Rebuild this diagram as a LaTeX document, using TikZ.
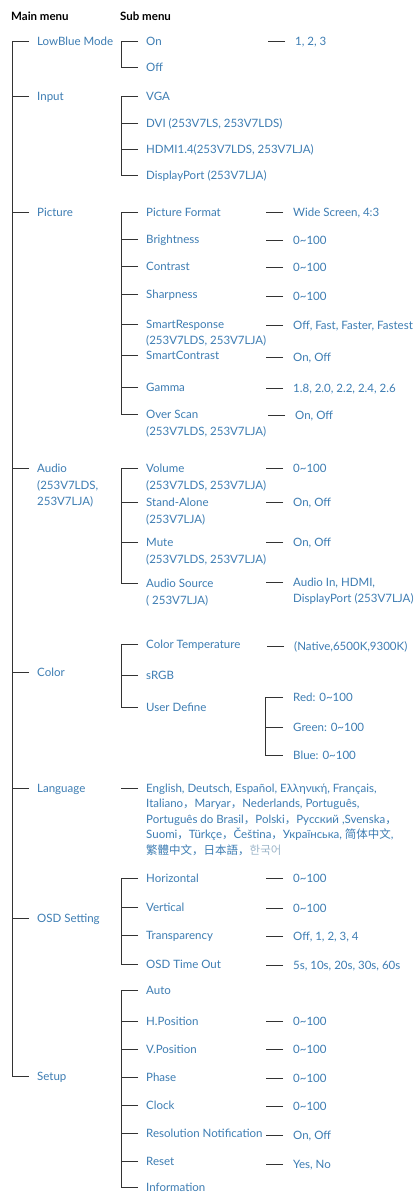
\documentclass[tikz,border=0pt]{standalone}
\usepackage{fontspec}
\setmainfont{Lato}
\newfontfamily\cjk{Noto Sans CJK SC}
\definecolor{menublue}{HTML}{3D7DB3}
\definecolor{linegray}{HTML}{333333}
\definecolor{koreangray}{HTML}{9DB6CA}
\newcommand\fwc{{\cjk ，}}
\newcommand\tld{\textasciitilde}
\begin{document}
\begin{tikzpicture}[x=1pt,y=-1pt,
  lbl/.style={font=\fontsize{11.5}{14}\selectfont, text=menublue, anchor=west, inner xsep=8pt, inner ysep=0pt, text height=8pt, text depth=0pt},
  val/.style={lbl, inner xsep=10pt},
  head/.style={font=\fontsize{11.5}{14}\selectfont\bfseries, text=black, anchor=west, inner sep=0pt, text height=8pt, text depth=0pt},
  conn/.style={draw=linegray, line width=0.9pt}]
\useasboundingbox[fill=white] (0,0) rectangle (414,1194);
% headers
\node[head] (hMain) at (11,16) {Main menu};
\node[head] (hSub) at (120,16) {Sub menu};
% main menu
\node[lbl] (mLow) at (29,41) {LowBlue Mode};
\node[lbl] (mInput) at (29,96) {Input};
\node[lbl] (mPic) at (29,212) {Picture};
\node[lbl] (mAudio) at (29,468) {Audio};
\node[lbl] (mAudio2) at (29,485) {(253V7LDS,};
\node[lbl] (mAudio3) at (29,501) {253V7LJA)};
\node[lbl] (mColor) at (29,672) {Color};
\node[lbl] (mLang) at (29,788) {Language};
\node[lbl] (mOSD) at (29,918) {OSD Setting};
\node[lbl] (mSetup) at (29,1076) {Setup};
\draw[conn] (mLow.west) -- ++(-17,0) |- (mSetup.west);
\foreach \n in {mInput,mPic,mAudio,mColor,mLang,mOSD} \draw[conn] (\n.west) -- ++(-17,0);
% LowBlue
\node[lbl] (sOn) at (138,41) {On};
\node[lbl] (sOff) at (138,67) {Off};
\draw[conn] (sOn.west) -- ++(-17,0) |- (sOff.west);
\node[val] (vOn) at (285,41) {1, 2, 3};
\draw[conn] (vOn.west) -- ++(-17,0);
% Input
\node[lbl] (sVGA) at (138,96) {VGA};
\node[lbl] (sDVI) at (138,123) {DVI (253V7LS, 253V7LDS)};
\node[lbl] (sHDMI) at (138,149) {HDMI1.4(253V7LDS, 253V7LJA)};
\node[lbl] (sDP) at (138,175) {DisplayPort (253V7LJA)};
\draw[conn] (sVGA.west) -- ++(-17,0) |- (sDP.west);
\foreach \n in {sDVI,sHDMI} \draw[conn] (\n.west) -- ++(-17,0);
% Picture
\node[lbl] (sPF) at (138,212) {Picture Format};
\node[lbl] (sBr) at (138,239) {Brightness};
\node[lbl] (sCo) at (138,266) {Contrast};
\node[lbl] (sSh) at (138,294) {Sharpness};
\node[lbl] (sSR) at (138,324) {SmartResponse};
\node[lbl] (sSR2) at (138,340) {(253V7LDS, 253V7LJA)};
\node[lbl] (sSC) at (138,355) {SmartContrast};
\node[lbl] (sGa) at (138,387) {Gamma};
\node[lbl] (sOS) at (138,414) {Over Scan};
\node[lbl] (sOS2) at (138,431) {(253V7LDS, 253V7LJA)};
\draw[conn] (sPF.west) -- ++(-17,0) |- (sOS.west);
\foreach \n in {sBr,sCo,sSh,sSR,sSC,sGa} \draw[conn] (\n.west) -- ++(-17,0);
\node[val] (vPF) at (283,212) {Wide Screen, 4:3};
\node[val] (vBr) at (283,240) {0\tld100};
\node[val] (vCo) at (283,267) {0\tld100};
\node[val] (vSh) at (283,296) {0\tld100};
\node[val] (vSR) at (283,325) {Off, Fast, Faster, Fastest};
\node[val] (vSC) at (283,357) {On, Off};
\node[val] (vGa) at (283,388) {1.8, 2.0, 2.2, 2.4, 2.6};
\node[val] (vOS) at (285,415) {On, Off};
\foreach \n in {vPF,vBr,vCo,vSh,vSR,vSC,vGa,vOS} \draw[conn] (\n.west) -- ++(-17,0);
% Audio
\node[lbl] (sVol) at (138,468) {Volume};
\node[lbl] (sVol2) at (138,485) {(253V7LDS, 253V7LJA)};
\node[lbl] (sSA) at (138,502) {Stand-Alone};
\node[lbl] (sSA2) at (138,519) {(253V7LJA)};
\node[lbl] (sMu) at (138,542) {Mute};
\node[lbl] (sMu2) at (138,559) {(253V7LDS, 253V7LJA)};
\node[lbl] (sAS) at (138,583) {Audio Source};
\node[lbl] (sAS2) at (138,600) {( 253V7LJA)};
\draw[conn] (sVol.west) -- ++(-17,0) |- (sAS.west);
\foreach \n in {sSA,sMu} \draw[conn] (\n.west) -- ++(-17,0);
\node[val] (vVol) at (283,468) {0\tld100};
\node[val] (vSA) at (283,502) {On, Off};
\node[val] (vMu) at (283,542) {On, Off};
\node[val] (vAS) at (283,582) {Audio In, HDMI,};
\node[val] (vAS2) at (283,598) {DisplayPort (253V7LJA)};
\foreach \n in {vVol,vSA,vMu,vAS} \draw[conn] (\n.west) -- ++(-17,0);
% Color
\node[lbl] (sCT) at (138,644) {Color Temperature};
\node[lbl] (sRGB) at (138,675) {sRGB};
\node[lbl] (sUD) at (138,707) {User Define};
\draw[conn] (sCT.west) -- ++(-17,0) |- (sUD.west);
\draw[conn] (sRGB.west) -- ++(-17,0);
\node[val] (vCT) at (284,646) {(Native,6500K,9300K)};
\draw[conn] (vCT.west) -- ++(-17,0);
\node[val] (vRed) at (283,697) {Red: 0\tld100};
\node[val] (vGreen) at (283,727) {Green: 0\tld100};
\node[val] (vBlue) at (283,755) {Blue: 0\tld100};
\draw[conn] (vRed.west) -- ++(-18,0) |- (vBlue.west);
\draw[conn] (vGreen.west) -- ++(-18,0);
% Language
\node[lbl] (sL1) at (138,788) {English, Deutsch, Español, Ελληνική, Français,};
\node[lbl] (sL2) at (138,803) {Italiano\fwc Maryar\fwc Nederlands, Português,};
\node[lbl] (sL3) at (138,819) {Português do Brasil\fwc Polski\fwc Русский ,Svenska\fwc};
\node[lbl] (sL4) at (138,834) {Suomi\fwc Türkçe\fwc Čeština\fwc Українська, {\cjk 简体中文},};
\node[lbl] (sL5) at (138,850) {{\cjk 繁體中文，日本語，\textcolor{koreangray}{한국어}}};
\draw[conn] (sL1.west) -- ++(-17,0);
% OSD
\node[lbl] (sH) at (138,878) {Horizontal};
\node[lbl] (sV) at (138,907) {Vertical};
\node[lbl] (sT) at (138,935) {Transparency};
\node[lbl] (sTO) at (138,964) {OSD Time Out};
\draw[conn] (sH.west) -- ++(-17,0) |- (sTO.west);
\foreach \n in {sV,sT} \draw[conn] (\n.west) -- ++(-17,0);
\node[val] (vH) at (283,878) {0\tld100};
\node[val] (vV) at (283,908) {0\tld100};
\node[val] (vT) at (283,936) {Off, 1, 2, 3, 4};
\node[val] (vTO) at (283,965) {5s, 10s, 20s, 30s, 60s};
\foreach \n in {vH,vV,vT,vTO} \draw[conn] (\n.west) -- ++(-17,0);
% Setup
\node[lbl] (sAuto) at (138,990) {Auto};
\node[lbl] (sHP) at (138,1021) {H.Position};
\node[lbl] (sVP) at (138,1049) {V.Position};
\node[lbl] (sPh) at (138,1077) {Phase};
\node[lbl] (sCl) at (138,1105) {Clock};
\node[lbl] (sRN) at (138,1133) {Resolution Notification};
\node[lbl] (sRe) at (138,1161) {Reset};
\node[lbl] (sInf) at (138,1187) {Information};
\draw[conn] (sAuto.west) -- ++(-17,0) |- (sInf.west);
\foreach \n in {sHP,sVP,sPh,sCl,sRN,sRe} \draw[conn] (\n.west) -- ++(-17,0);
\node[val] (vHP) at (283,1021) {0\tld100};
\node[val] (vVP) at (283,1049) {0\tld100};
\node[val] (vPh) at (283,1078) {0\tld100};
\node[val] (vCl) at (283,1106) {0\tld100};
\node[val] (vRN) at (283,1135) {On, Off};
\node[val] (vRe) at (283,1164) {Yes, No};
\foreach \n in {vHP,vVP,vPh,vCl,vRN,vRe} \draw[conn] (\n.west) -- ++(-17,0);
\end{tikzpicture}
\end{document}
